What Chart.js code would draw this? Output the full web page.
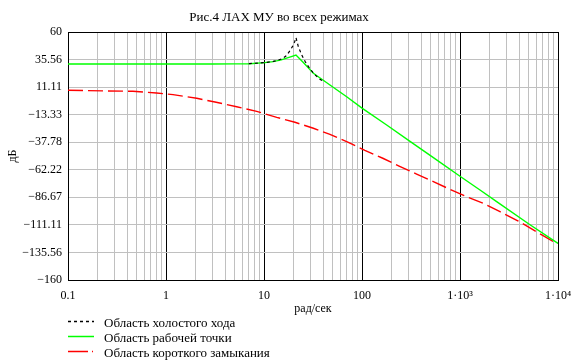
<!DOCTYPE html>
<html>
<head>
<meta charset="utf-8">
<script src="https://cdn.jsdelivr.net/npm/chart.js@4/dist/chart.umd.min.js"></script>
<style>
    body { margin: 0; background: #fff; }
    #wrap { position: relative; width: 585px; height: 363px; font-family: "Liberation Serif", "Times New Roman", serif; }
    #wrap canvas { position: absolute; left: 0; top: 0; }
    .leg-row { position: absolute; left: 0; height: 15px; width: 400px; font-size: 13px; line-height: 15px; color: #000; white-space: nowrap; }
    .leg-row svg { position: absolute; left: 68px; top: 0; }
    .leg-row span { position: absolute; left: 104px; top: 0; }
</style>
</head>
<body>
<div id="wrap">
    <canvas id="lax" width="585" height="363"></canvas>
</div>
<script>
// Chart texts
const chartTitle = 'Рис.4 ЛАХ МУ во всех режимах';
const xTitle = 'рад/сек';
const yTitle = 'дБ';
const seriesNames = ['Область холостого хода', 'Область рабочей точки', 'Область короткого замыкания'];
const seriesColors = ['#000000', '#00ff00', '#ff0000'];

// x axis decades and their labels
const xDecades = [0.1, 1, 10, 100, 1000, 10000];
const xDecadeLabels = ['0.1', '1', '10', '100', '1·10³', '1·10⁴'];

// y axis ticks (bottom to top) and labels
const yTicks = [-160, -135.56, -111.11, -86.67, -62.22, -37.78, -13.33, 11.11, 35.56, 60];
const yTickLabels = ['−160', '−135.56', '−111.11', '−86.67', '−62.22', '−37.78', '−13.33', '11.11', '35.56', '60'];

// idle region (black dotted), rad/s and dB
const idleW  = [7.0, 10.2, 12.4, 13.5, 15.5, 17, 18.4, 19.5, 20.5, 21.2, 22.4, 24.3, 26.2, 28.3, 31.9, 36, 40];
const idleDb = [31.9, 32.9, 33.9, 34.6, 36.5, 39.2, 43.5, 47, 51, 55, 47, 39.6, 34.0, 29.5, 23.6, 19.0, 16.3];

// working point (green)
const workW  = [0.1, 1, 3, 5, 7.2, 10.2, 12.4, 15, 17, 19, 21.2, 25.2, 31.9, 47.1, 69.8, 100, 178.6, 309, 535, 1000, 1600, 2366, 5178, 10000];
const workDb = [31.6, 31.6, 31.6, 31.7, 31.9, 32.8, 33.7, 35.3, 36.8, 38.2, 39.6, 33.0, 23.4, 13.0, 2.6, -7.5, -22.5, -37.0, -51.5, -68.0, -80.2, -90.5, -111.0, -127.5];

// short circuit (red dash-dot)
const shortW  = [0.1, 0.248, 0.46, 0.8, 1.18, 2.06, 3.16, 5.26, 8.43, 13.5, 20.7, 31.9, 47.1, 72.5, 107, 163, 239, 361, 535, 791, 1169, 1738, 2559, 3935, 5821, 8630, 10000];
const shortDb = [8.3, 7.7, 7.4, 5.9, 4.4, 1.2, -2.1, -6.3, -10.4, -15.7, -20.1, -25.4, -30.8, -37.9, -45.0, -52.0, -58.9, -66.0, -72.8, -79.6, -86.1, -92.0, -99.4, -107.7, -116.5, -125.1, -127.5];

const toPoints = (ws, dbs) => ws.map((w, i) => ({ x: w, y: dbs[i] }));
const isDecade = v => Math.abs(Math.log10(v) - Math.round(Math.log10(v))) < 1e-9;

Chart.defaults.font.family = '"Liberation Serif", "Times New Roman", serif';
Chart.defaults.color = '#000';

// black frame round the plot area
const frame = {
    id: 'frame',
    beforeDatasetsDraw(chart) {
        const { ctx, chartArea: a } = chart;
        const al = p => Math.round(p - 0.5) + 0.5;
        ctx.save();
        ctx.strokeStyle = '#000';
        ctx.lineWidth = 1;
        ctx.strokeRect(al(a.left), al(a.top), al(a.right) - al(a.left), al(a.bottom) - al(a.top));
        ctx.restore();
    }
};

new Chart(document.getElementById('lax'), {
    type: 'line',
    data: {
        datasets: [
            { label: seriesNames[0], data: toPoints(idleW, idleDb), borderColor: seriesColors[0], borderDash: [3, 3], borderWidth: 1.2 },
            { label: seriesNames[1], data: toPoints(workW, workDb), borderColor: seriesColors[1], borderWidth: 1.4 },
            { label: seriesNames[2], data: toPoints(shortW, shortDb), borderColor: seriesColors[2], borderDash: [15, 5], borderWidth: 1.4 }
        ]
    },
    options: {
        responsive: false,
        animation: false,
        layout: { padding: { left: 0, right: 27, top: 0, bottom: 43 } },
        elements: {
            line: { tension: 0, fill: false },
            point: { radius: 0 }
        },
        plugins: {
            legend: { display: false },
            tooltip: { enabled: false },
            title: {
                display: true,
                text: chartTitle,
                font: { size: 13, weight: 'normal' },
                padding: { top: 10, bottom: 6.4 }
            }
        },
        scales: {
            x: {
                type: 'logarithmic',
                min: 0.1,
                max: 10000,
                afterBuildTicks: scale => {
                    const ticks = [];
                    for (let e = -1; e <= 3; e++) {
                        for (let m = 1; m <= 9; m++) ticks.push({ value: Number((m * Math.pow(10, e)).toPrecision(6)) });
                    }
                    ticks.push({ value: 10000 });
                    scale.ticks = ticks;
                },
                afterFit: scale => { scale.height = 40; },
                grid: {
                    drawTicks: false,
                    color: ctx => (ctx.tick && isDecade(ctx.tick.value)) ? '#000' : '#c0c0c0'
                },
                border: { display: false },
                ticks: {
                    autoSkip: false,
                    maxRotation: 0,
                    padding: 9,
                    font: { size: 12 },
                    callback: value => {
                        const i = xDecades.findIndex(d => Math.abs(d - value) < 1e-9 * d);
                        return i >= 0 ? xDecadeLabels[i] : '';
                    }
                },
                title: { display: true, text: xTitle, font: { size: 12 }, padding: { top: 4, bottom: 4 } }
            },
            y: {
                type: 'linear',
                min: -160,
                max: 60,
                afterBuildTicks: scale => { scale.ticks = yTicks.map(v => ({ value: v })); },
                afterFit: scale => { scale.width = 68; },
                grid: { drawTicks: false, color: '#c0c0c0' },
                border: { display: false },
                ticks: {
                    padding: 6,
                    font: { size: 12 },
                    callback: (value, index) => yTickLabels[index]
                },
                title: { display: true, text: yTitle, font: { size: 12 }, padding: { top: 6, bottom: 0 } }
            }
        }
    },
    plugins: [frame]
});

// legend below the chart
const wrap = document.getElementById('wrap');
const legendTops = [315, 330, 345];
const legendDash = ['3 3', '', '20 4 1 4'];
seriesNames.forEach((name, i) => {
    const row = document.createElement('div');
    row.className = 'leg-row';
    row.style.top = legendTops[i] + 'px';
    const dashAttr = legendDash[i] ? ` stroke-dasharray="${legendDash[i]}"` : '';
    row.innerHTML = `<svg width="26" height="15"><line x1="0" y1="6.5" x2="26" y2="6.5" stroke="${seriesColors[i]}" stroke-width="1.5"${dashAttr}/></svg><span>${name}</span>`;
    wrap.appendChild(row);
});
</script>
</body>
</html>
